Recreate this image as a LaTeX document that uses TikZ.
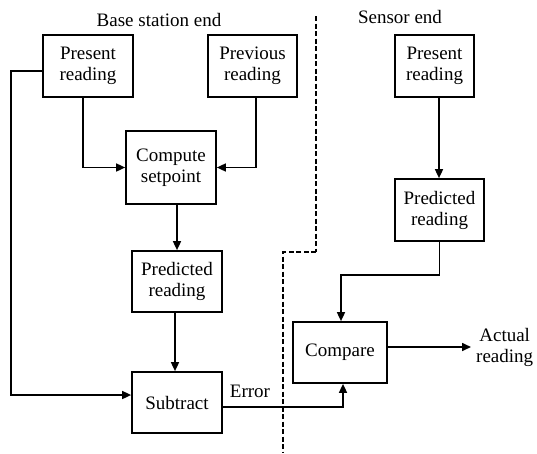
\documentclass[tikz,border=0pt]{standalone}
\usepackage{fontspec}
\setmainfont{Liberation Serif}
\usetikzlibrary{arrows.meta}
\begin{document}
\begin{tikzpicture}[x=1pt,y=-1pt,
  every node/.style={font=\fontsize{19}{21}\selectfont, inner sep=0pt},
  blk/.style={draw, line width=1.7pt, rectangle, align=center},
  flow/.style={line width=1.6pt, -{Triangle[length=9pt,width=8pt]}},
  divider/.style={dash pattern=on 5pt off 2.5pt}]
\useasboundingbox (0,0) rectangle (537,453);

% base station side
\node[blk, minimum width=90pt, minimum height=62pt] (pl) at (88,66) {Present\\reading};
\node[blk, minimum width=89pt, minimum height=62pt] (pv) at (252.5,66) {Previous\\reading};
\node[blk, minimum width=90pt, minimum height=73pt] (cs) at (171,167.5) {Compute\\setpoint};
\node[blk, minimum width=90pt, minimum height=61pt] (pr) at (177,281.5) {Predicted\\reading};
\node[blk, minimum width=90pt, minimum height=61pt] (sb) at (177,402.5) {Subtract};

% sensor side
\node[blk, minimum width=79pt, minimum height=62pt] (sp) at (434.5,66) {Present\\reading};
\node[blk, minimum width=89pt, minimum height=62pt] (sr) at (439.5,210) {Predicted\\reading};
\node[blk, minimum width=94pt, minimum height=61pt] (cmp) at (340,352.5) {Compare};

% headings and labels
\node (hb) at (159,20) {Base station end};
\node (hs) at (400,17) {Sensor end};
\node (err) at (250,391) {Error};
\node[align=center, anchor=west] (act) at (476,347) {Actual\\reading};

% base station connections
\draw[flow] ([xshift=-5pt]pl.south) |- (cs.west);
\draw[flow] ([xshift=3.5pt]pv.south) |- (cs.east);
\draw[flow] (pr.north |- cs.south) -- (pr.north);
\draw[flow] ([xshift=-2pt]pr.south) -- ([xshift=-2pt]sb.north);
\coordinate (fbl) at (11,71);
\draw[flow] ([yshift=-5pt]pl.west) -- (fbl) |- ([yshift=7.5pt]sb.west);

% sensor connections
\draw[flow] (sp.south -| 439,0) -- (sr.north -| 439,0);
\coordinate (bend) at (341,275);
\draw[flow] (sr.south) |- (bend) -- (bend |- cmp.north);
\draw[flow] ([yshift=-4.5pt]sb.east) -| ([xshift=3pt]cmp.south);
\draw[flow] ([yshift=5.5pt]cmp.east) -- (471,347);

% boundary between the two ends
\coordinate (d1) at (316,16);
\coordinate (d2) at (316,252);
\coordinate (d3) at (283,252);
\coordinate (d4) at (283,453);
\draw[divider, line width=2.4pt] (d1) -- (d2);
\draw[divider, line width=1.5pt] (d2) -- (d3) -- (d4);
\end{tikzpicture}
\end{document}
